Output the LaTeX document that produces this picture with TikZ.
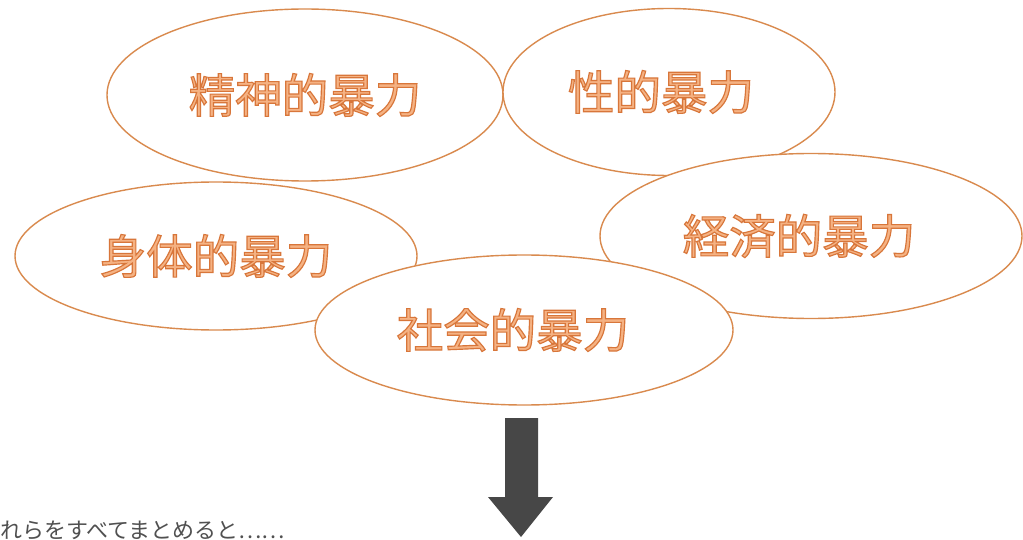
\documentclass[tikz,border=0pt]{standalone}
\usepackage{fontspec}
\usepackage{xcolor}
\usepackage{tikz}
\usetikzlibrary{shapes,positioning}

\newfontfamily\cjk{Noto Sans CJK JP}
\newfontfamily\cjkline[FakeBold=2.5]{Noto Sans CJK JP}
\definecolor{ringorange}{HTML}{D98A4E}
\definecolor{wordfill}{HTML}{F5B283}
\definecolor{arrowgray}{HTML}{474747}
\definecolor{notegray}{HTML}{505050}
% outlined letters: light fill, dark orange stroke
\newcommand{\hollow}[1]{{\cjkline\color{wordfill}\special{pdf:literal 0.847 0.463 0.227 RG}#1}}

\begin{document}
\begin{tikzpicture}[
    x=1pt, y=-1pt,
    kind/.style={ellipse, draw=ringorange, line width=1.4pt, fill=white, inner sep=0pt,
                 font=\cjk\fontsize{46.5}{50}\selectfont},
]
    \useasboundingbox (0,0) rectangle (1023,540);

    \node[kind, minimum width=396pt, minimum height=172pt] (mental) at (305,95) {\hollow{精神的暴力}};
    \node[kind, minimum width=332pt, minimum height=167pt] (sexual) at (669,92) {\hollow{性的暴力}\kern16pt};
    \node[kind, minimum width=402pt, minimum height=148pt] (physical) at (216,256) {\hollow{身体的暴力}};
    \node[kind, minimum width=422pt, minimum height=165pt] (economic) at (811,236) {\hollow{経済的暴力}\kern24pt};
    \node[kind, minimum width=418pt, minimum height=150pt] (social) at (524,330) {\hollow{社会的暴力}\kern22pt};

    % block arrow below
    \coordinate (tip) at (521,537);
    \fill[arrowgray] (505,418) -- (538,418) -- (538,497) -- (553,497) -- (tip)
        -- (488,497) -- (505,497) -- cycle;

    \node[anchor=west, inner sep=0pt, text=notegray, font=\cjk\fontsize{22}{26}\selectfont]
        (summary) at (0,530) {れらをすべてまとめると……};
\end{tikzpicture}
\end{document}
